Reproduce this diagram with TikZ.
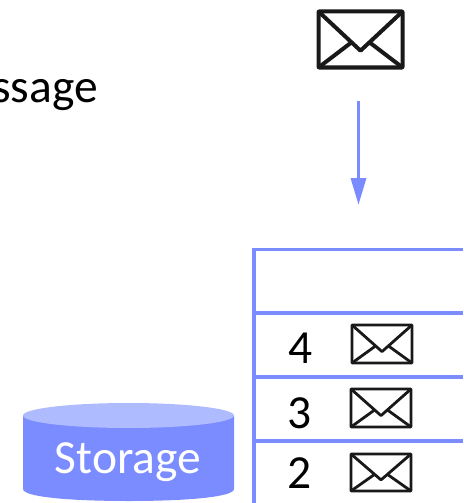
\documentclass[tikz,border=0pt]{standalone}
\usepackage{fontspec}
\setmainfont{Carlito}
\definecolor{qblue}{HTML}{7A8CFF}
\definecolor{qlight}{HTML}{AEBBFF}
\tikzset{
  tableline/.style={draw=qblue,line width=3.6pt},
  label/.style={inner sep=0pt,text=black,font=\fontsize{47.5}{54}\selectfont},
  envbox/.style={draw=black!90,rounded corners=0.5pt,fill=white},
  flowarrow/.style={draw=qblue,line width=3.6pt}
}
\newcommand{\envelope}[5]{% x y w h lw
  \begin{scope}[shift={(#1,#2)},x=1pt,y=-1pt,line width=#5pt,line join=round]
    \draw[envbox] (0,0) rectangle (#3,#4);
    \draw[black!90] (0,0) -- (#3*0.5,#4*0.70) -- (#3,0);
    \draw[black!90] (0,#4) -- (#3*0.385,#4*0.56);
    \draw[black!90] (#3,#4) -- (#3*0.615,#4*0.56);
  \end{scope}}
\begin{document}
\begin{tikzpicture}[x=1pt,y=-1pt]
\useasboundingbox (0,0) rectangle (463,503);
\begin{scope}
\clip (0,0) rectangle (463,503);
% message text
\node[label,anchor=base east] (msg) at (98,102) {ssage};
% incoming envelope
\envelope{318.5}{11.5}{84}{56}{4}
% arrow
\coordinate (arrstart) at (358.5,101);
\coordinate (arrtip) at (358.5,204.5);
\coordinate (headbase) at (358.5,178);
\draw[flowarrow] (arrstart) -- (headbase);
\fill[qblue] (350.5,178) -- (arrtip) -- (366.5,178) -- cycle;
% table
\draw[tableline] (463,249.5) -- (254,249.5) -- (254,503);
\draw[tableline] (254,313) -- (463,313);
\draw[tableline] (254,377) -- (463,377);
\draw[tableline] (254,441) -- (463,441);
% rows
\node[label,anchor=base] (n4) at (301,363) {4};
\node[label,anchor=base] (n3) at (299.5,428) {3};
\node[label,anchor=base] (n2) at (299.5,488) {2};
\envelope{352}{325}{60}{38}{2.8}
\envelope{351}{389}{60}{38}{2.8}
\envelope{351}{454}{60}{37}{2.8}
% storage
\fill[qblue] (23,415.5) -- (23,489) .. controls (23,497) and (70,501) .. (128.5,501) .. controls (187,501) and (234,497) .. (234,489) -- (234,415.5) -- cycle;
\fill[qlight] (128.5,415.5) ellipse[x radius=105.5,y radius=12.5];
\node[inner sep=0pt,anchor=base,text=white,font=\fontsize{47.5}{54}\selectfont] (st) at (128,473) {Storage};
\end{scope}
\end{tikzpicture}
\end{document}
